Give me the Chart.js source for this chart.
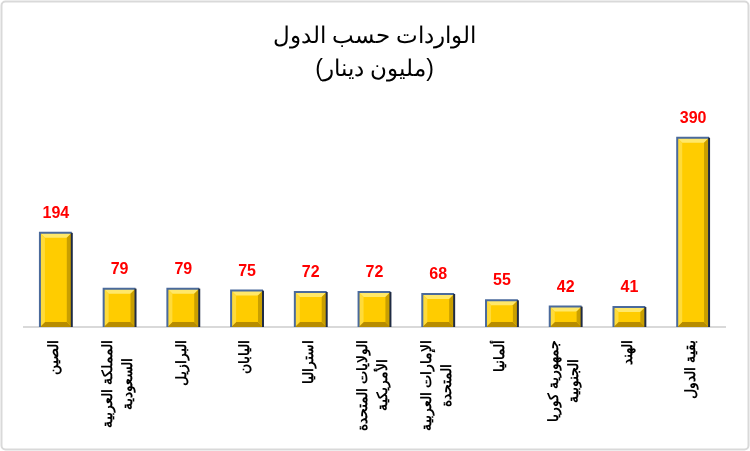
<!DOCTYPE html>
<html lang="ar">
<head>
<meta charset="utf-8">
<script src="https://cdn.jsdelivr.net/npm/chart.js@4.4.1/dist/chart.umd.min.js"></script>
<style>
  html, body { margin: 0; padding: 0; background: #fff; }
  #wrap { width: 750px; height: 451px; position: relative; }
</style>
</head>
<body>
<div id="wrap"><canvas id="c" width="750" height="451"></canvas></div>
<script>
// Imports by country (million dinars)
const titleLines = ['الواردات حسب الدول', '(مليون دينار)'];
const countries = [
  ['الصين'],
  ['المملكة العربية', 'السعودية'],
  ['البرازيل'],
  ['اليابان'],
  ['استراليا'],
  ['الولايات المتحدة', 'الأمريكية'],
  ['الإمارات العربية', 'المتحدة'],
  ['ألمانيا'],
  ['جمهورية كوريا', 'الجنوبية'],
  ['الهند'],
  ['بقية الدول']
];
const imports = [194, 79, 79, 75, 72, 72, 68, 55, 42, 41, 390];

// Outer rounded frame around the whole chart
const framePlugin = {
  id: 'frame',
  beforeDraw(chart) {
    const ctx = chart.ctx;
    ctx.save();
    ctx.fillStyle = '#ffffff';
    ctx.fillRect(0, 0, chart.width, chart.height);
    ctx.strokeStyle = '#d9d9d9';
    ctx.lineWidth = 2;
    ctx.beginPath();
    ctx.roundRect(1.5, 1.5, chart.width - 3, chart.height - 3, 4);
    ctx.stroke();
    ctx.restore();
  }
};

// Bevelled gold shading and value labels on each bar
const bevelPlugin = {
  id: 'bevel',
  afterDatasetsDraw(chart) {
    const ctx = chart.ctx;
    const meta = chart.getDatasetMeta(0);
    const b = 5;
    ctx.save();
    meta.data.forEach((bar, i) => {
      const p = bar.getProps(['x', 'y', 'base', 'width'], true);
      const l = p.x - p.width / 2, r = p.x + p.width / 2;
      const t = p.y, bt = p.base;
      const poly = (pts, fill) => {
        ctx.beginPath();
        ctx.moveTo(pts[0][0], pts[0][1]);
        for (let k = 1; k < pts.length; k++) ctx.lineTo(pts[k][0], pts[k][1]);
        ctx.closePath();
        ctx.fillStyle = fill;
        ctx.fill();
      };
      poly([[l, t], [r, t], [r - b, t + b], [l + b, t + b]], '#ffe86a');
      poly([[l, bt], [r, bt], [r - b, bt - b], [l + b, bt - b]], '#b78c00');
      poly([[l, t], [l + b, t + b], [l + b, bt - b], [l, bt]], '#ffdb3a');
      poly([[r, t], [r - b, t + b], [r - b, bt - b], [r, bt]], '#c99f00');
      // edges
      ctx.lineWidth = 2;
      ctx.strokeStyle = '#4a6a9c';
      ctx.beginPath();
      ctx.moveTo(l, bt); ctx.lineTo(l, t); ctx.lineTo(r, t);
      ctx.stroke();
      ctx.strokeStyle = '#1f2b44';
      ctx.beginPath();
      ctx.moveTo(r, t); ctx.lineTo(r, bt);
      ctx.stroke();

      ctx.fillStyle = '#ff0000';
      ctx.font = 'bold 16px "Liberation Sans", Arial, sans-serif';
      ctx.textAlign = 'center';
      ctx.textBaseline = 'middle';
      ctx.fillText(String(imports[i]), p.x, t - 19.5);
    });
    ctx.restore();
  }
};

// Centre multi-line rotated category labels on their tick, each line centred
function centreRotatedLabels(scale) {
  if (scale._centredLabels) return;
  scale._centredLabels = true;
  const base = scale._computeLabelItems;
  scale._computeLabelItems = function (chartArea) {
    const items = base.call(this, chartArea);
    const ctx = this.ctx;
    items.forEach(item => {
      const lines = Array.isArray(item.label) ? item.label : [item.label];
      const lh = item.font.lineHeight;
      ctx.save();
      ctx.font = item.font.string;
      const w = Math.max(...lines.map(s => ctx.measureText(s).width));
      ctx.restore();
      item.options.translation[0] -= (lines.length - 1) * lh / 2 + 1.5;
      item.options.translation[1] += w / 2;
      item.options.textAlign = 'center';
    });
    return items;
  };
}

new Chart(document.getElementById('c'), {
  type: 'bar',
  data: {
    labels: countries,
    datasets: [{
      data: imports,
      backgroundColor: '#ffcc00',
      borderWidth: 0,
      categoryPercentage: 1,
      barPercentage: 0.5
    }]
  },
  options: {
    responsive: false,
    animation: false,
    layout: { padding: { top: 8, left: 24, right: 25, bottom: 0 } },
    plugins: {
      legend: { display: false },
      tooltip: { enabled: false },
      title: {
        display: true,
        text: titleLines,
        color: '#000',
        font: { family: '"Liberation Sans", Arial, sans-serif', size: 23, weight: 'normal', lineHeight: 1.435 },
        padding: { top: 12, bottom: 8 }
      }
    },
    scales: {
      x: {
        grid: { display: false, drawTicks: false },
        border: { display: true, color: '#d9d9d9', width: 2 },
        ticks: {
          color: '#000',
          minRotation: 90,
          maxRotation: 90,
          autoSkip: false,
          padding: 13,
          font: { family: '"Liberation Sans", Arial, sans-serif', size: 14, weight: 'bold', lineHeight: 1.43 }
        },
        afterFit(scale) {
          scale.height = 124;
          centreRotatedLabels(scale);
        }
      },
      y: {
        display: false,
        min: 0,
        max: 480
      }
    }
  },
  plugins: [framePlugin, bevelPlugin]
});
</script>
</body>
</html>
